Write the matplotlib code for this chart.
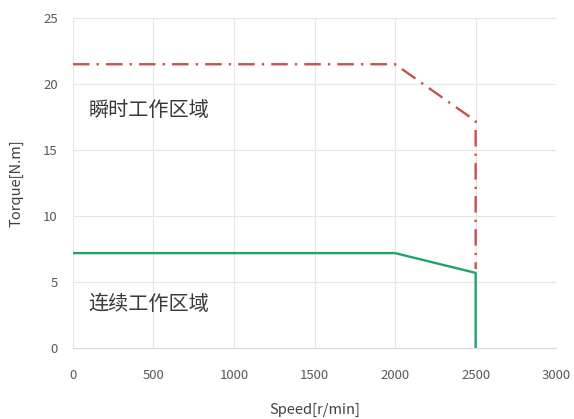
import matplotlib
matplotlib.use("Agg")
import matplotlib.pyplot as plt

plt.rcParams['font.family'] = ['Noto Sans CJK SC', 'DejaVu Sans']

# peak (instantaneous) torque curve
peak_speed = [0, 2000, 2500, 2500]
peak_torque = [21.5, 21.5, 17.2, 6.0]

# continuous torque curve
cont_speed = [0, 2000, 2500, 2500]
cont_torque = [7.2, 7.2, 5.7, 0]

x_ticks = [0, 500, 1000, 1500, 2000, 2500, 3000]
y_ticks = [0, 5, 10, 15, 20, 25]

label_peak = '瞬时工作区域'
label_cont = '连续工作区域'

fig = plt.figure(figsize=(5.74, 4.19), dpi=100)
ax = fig.add_axes([0.127, 0.169, 0.842, 0.788])

ax.plot(peak_speed, peak_torque, color='#c9504c', linestyle=(0, (7, 3, 1, 3)), linewidth=1.7)
ax.plot(cont_speed, cont_torque, color='#1fa36a', linewidth=1.7)

ax.text(95, 18.0, label_peak, fontsize=14.5, color='#3a3a3a', va='center')
ax.text(95, 3.3, label_cont, fontsize=14.5, color='#3a3a3a', va='center')

ax.set_xlim(0, 3000)
ax.set_ylim(0, 25)
ax.set_xticks(x_ticks)
ax.set_yticks(y_ticks)
ax.grid(True, color='#e6e6e6', linewidth=0.8)
ax.set_axisbelow(True)
for side in ['top', 'right', 'left']:
    ax.spines[side].set_visible(False)
ax.spines['bottom'].set_color('#d9d9d9')
ax.tick_params(length=0, labelsize=9.5, colors='#595959')
ax.tick_params(axis='x', pad=15)
ax.tick_params(axis='y', pad=11)

ax.set_xlabel('Speed[r/min]', fontsize=10.5, color='#404040', labelpad=15)
ax.set_ylabel('Torque[N.m]', fontsize=10.5, color='#404040', labelpad=14)

fig.savefig('out.png', dpi=100)
